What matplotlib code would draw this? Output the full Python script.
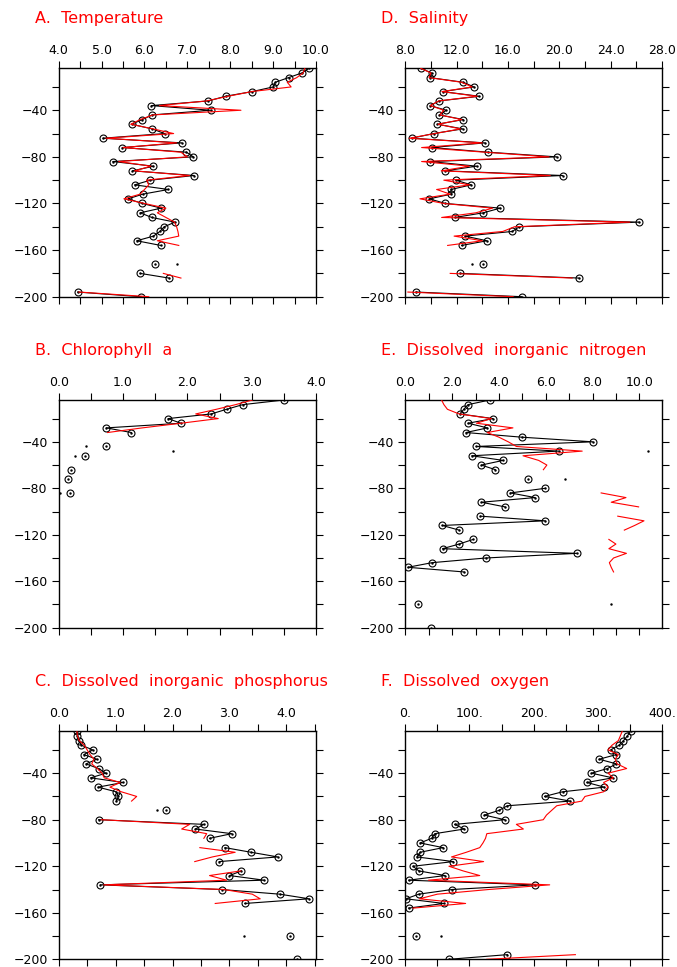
import numpy as np
import matplotlib
matplotlib.use("Agg")
import matplotlib.pyplot as plt
from matplotlib.ticker import MultipleLocator, StrMethodFormatter

nan = np.nan

# depth levels (m), every 4 m
depth = [-4, -8, -12, -16, -20, -24, -28, -32, -36, -40,
         -44, -48, -52, -56, -60, -64, -68, -72, -76, -80,
         -84, -88, -92, -96, -100, -104, -108, -112, -116, -120,
         -124, -128, -132, -136, -140, -144, -148, -152, -156, -160,
         -164, -168, -172, -176, -180, -184, -188, -192, -196, -200]

# A. Temperature
temp_obs = [9.84, 9.67, 9.36, 9.05, 9.00, 8.51, 7.89, 7.49, 6.16, 7.54,
            6.18, 5.95, 5.70, 6.18, 6.47, 5.03, 6.87, 5.48, 6.98, 7.14,
            5.26, 6.21, 5.72, 7.16, 6.14, 5.77, 6.56, 5.96, 5.62, 5.95,
            6.39, 5.90, 6.17, 6.71, 6.46, 6.36, 6.21, 5.82, 6.38, nan,
            nan, nan, 6.24, nan, 5.90, 6.57, nan, nan, 4.44, 5.91]
temp_mod = [9.74, 9.70, 9.55, 9.33, 9.42, 8.50, 7.95, 7.45, 6.35, 8.25,
            6.20, 5.90, 5.68, 6.20, 6.68, 5.10, 6.75, 5.50, 6.85, 7.00,
            5.40, 6.15, 5.77, 7.05, 6.05, 6.10, 6.00, 5.90, 5.52, 6.00,
            6.50, 6.30, 6.50, 6.70, 6.75, 6.78, 6.80, 6.30, 6.80, nan,
            nan, nan, nan, nan, 6.44, 6.85, nan, nan, 4.47, 6.10]
temp_dots = [(6.75, -172)]

# D. Salinity
sal_obs = [9.20, 10.05, 9.92, 12.52, 13.35, 10.90, 13.77, 10.65, 9.92, 11.20,
           10.65, 12.52, 10.50, 12.47, 10.20, 8.49, 14.21, 10.05, 14.45, 19.80,
           9.95, 13.56, 11.10, 20.26, 11.92, 13.14, 11.56, 11.58, 9.87, 11.12,
           15.40, 14.08, 11.87, 26.23, 16.88, 16.34, 12.65, 14.36, 12.39, nan,
           nan, nan, 14.03, nan, 12.26, 21.51, nan, nan, 8.83, 17.06]
sal_mod = [9.20, 10.00, 9.85, 12.40, 13.20, 10.85, 13.60, 10.60, 9.95, 11.00,
           10.70, 12.40, 10.55, 12.30, 10.30, 8.30, 14.00, 9.27, 14.20, 19.20,
           9.27, 13.00, 10.80, 19.30, 11.00, 13.00, 10.44, 11.50, 9.14, 11.00,
           14.80, 13.50, 10.83, 25.50, 16.50, 15.60, 11.80, 14.00, 11.30, nan,
           nan, nan, nan, nan, 11.50, 21.00, nan, nan, 8.20, 16.40]
sal_dots = [(13.17, -172)]

# B. Chlorophyll a
chl_obs = [3.50, 2.86, 2.61, 2.37, 1.70, 1.90, 0.74, 1.13, nan, nan,
           0.74, nan, 0.41, nan, nan, 0.19, nan, 0.14, nan, nan,
           0.18, nan, nan, nan, nan, nan, nan, nan, nan, nan,
           nan, nan, nan, nan, nan, nan, nan, nan, nan, nan,
           nan, nan, nan, nan, nan, nan, nan, nan, nan, nan]
chl_mod = [3.01, 2.75, 2.45, 2.13, 2.48, 1.90, 1.30, 0.76, nan, nan,
           nan, nan, nan, nan, nan, nan, nan, nan, nan, nan,
           nan, nan, nan, nan, nan, nan, nan, nan, nan, nan,
           nan, nan, nan, nan, nan, nan, nan, nan, nan, nan,
           nan, nan, nan, nan, nan, nan, nan, nan, nan, nan]
chl_dots = [(0.42, -44), (1.77, -48), (0.25, -52), (0.02, -84)]

# E. Dissolved inorganic nitrogen
din_obs = [3.61, 2.68, 2.50, 2.33, 3.75, 2.68, 3.51, 2.59, 4.97, 8.01,
           3.03, 6.55, 2.84, 4.18, 3.25, 3.85, nan, 5.24, nan, 5.98,
           4.49, 5.55, 3.25, 4.26, nan, 3.21, 5.98, 1.58, 2.30, nan,
           2.90, 2.30, 1.59, 7.33, 3.44, 1.15, 0.11, 2.50, nan, nan,
           nan, nan, nan, nan, 0.55, nan, nan, nan, nan, 1.08]
din_mod = [1.55, 1.65, 1.80, 2.30, 3.68, 3.04, 4.60, 3.50, 4.00, 4.40,
           4.75, 7.56, 5.03, 5.70, 6.05, 5.90, nan, nan, nan, nan,
           8.37, 9.43, 8.80, 9.97, nan, 9.08, 10.20, 9.80, 9.36, nan,
           8.70, 9.00, 8.70, 9.45, 8.90, 8.72, 8.80, 8.90, nan, nan,
           nan, nan, nan, nan, nan, nan, nan, nan, nan, nan]
din_dots = [(10.36, -48), (6.83, -72), (8.78, -180)]

# C. Dissolved inorganic phosphorus
dip_obs = [0.32, 0.33, 0.35, 0.40, 0.60, 0.44, 0.67, 0.48, 0.70, 0.83,
           0.56, 1.13, 0.69, 1.01, 1.05, 1.01, nan, 1.88, nan, 0.70,
           2.55, 2.40, 3.04, 2.65, nan, 2.92, 3.38, 3.85, 2.82, nan,
           3.21, 3.00, 3.61, 0.73, 2.86, 3.88, 4.40, 3.27, nan, nan,
           nan, nan, nan, nan, 4.06, nan, nan, nan, nan, 4.19]
dip_mod = [0.32, 0.33, 0.36, 0.45, 0.50, 0.55, 0.62, 0.58, 0.68, 0.76,
           0.80, 1.08, 0.90, 1.10, 1.37, 1.28, nan, nan, nan, 0.75,
           2.30, 2.16, 2.60, 2.55, nan, 2.48, 3.10, 2.70, 2.39, nan,
           3.20, 2.65, 2.95, 0.79, 2.90, 3.40, 3.54, 2.75, nan, nan,
           nan, nan, nan, nan, nan, nan, nan, nan, nan, nan]
dip_dots = [(1.72, -72), (3.26, -180)]

# F. Dissolved oxygen
do_obs = [351, 346, 340, 333, 320, 329, 302, 329, 315, 290,
          323, 283, 310, 245, 217, 257, 159, 146, 123, 155,
          77, 92, 46, 41, 23, 59, 23, 18, 75, 12,
          21, 62, 5, 202, 73, 21, 1, 60, 5, nan,
          nan, nan, nan, nan, 17, nan, nan, nan, 159, 68]
do_mod = [338, 335, 332, 322, 316, 332, 327, 330, 345, 316,
          324, 309, 316, 309, 280, 275, 236, 228, 220, 215,
          173, 184, 127, 125, 121, 116, 95, 72, 122, 68,
          90, 116, 36, 225, 130, 50, 22, 94, 12, nan,
          nan, nan, nan, nan, nan, nan, nan, nan, 265, 127]
do_dots = [(55, -180)]

W, H = 677, 967
fig = plt.figure(figsize=(W / 100, H / 100), dpi=100)
plt.rcParams['font.family'] = ['DejaVu Sans']


def panel(px, title, obs, mod, dots, xlim, major, minor, fmt):
    # px = (left, top, right, bottom) in pixels
    l, t, r, b = px
    ax = fig.add_axes([l / W, 1 - b / H, (r - l) / W, (b - t) / H])
    ax.plot(obs, depth, color='black', lw=0.8, marker='o', ms=5,
            mfc='none', mec='black', mew=0.8, zorder=2)
    ax.plot(obs, depth, ls='none', marker='.', ms=1.5, color='black', zorder=2)
    ax.plot(mod, depth, color='red', lw=0.8, zorder=3)
    if dots:
        ax.plot([d[0] for d in dots], [d[1] for d in dots], ls='none',
                marker='.', ms=1.5, color='black')
    ax.set_xlim(*xlim)
    ax.set_ylim(-200, -4)
    ax.xaxis.set_major_locator(MultipleLocator(major))
    ax.xaxis.set_minor_locator(MultipleLocator(minor))
    ax.xaxis.set_major_formatter(StrMethodFormatter(fmt))
    ax.yaxis.set_major_locator(MultipleLocator(40))
    ax.yaxis.set_minor_locator(MultipleLocator(20))
    ax.tick_params(axis='x', which='both', top=True, bottom=True,
                   labeltop=True, labelbottom=False, direction='out',
                   length=5, width=0.8, labelsize=9, pad=3)
    ax.tick_params(axis='y', which='both', left=True, right=True,
                   labelleft=True, labelright=False, direction='out',
                   length=5, width=0.8, labelsize=9, pad=3)
    for s in ax.spines.values():
        s.set_linewidth(1.0)
    fig.text((l - 24) / W, 1 - (t - 50) / H, title, color='red',
             fontsize=11.5, ha='left', va='center')
    return ax


left = (58.7, 316)
right = (405.3, 662)
rows = [(68.3, 296.7), (400, 627.7), (731.3, 959.3)]

panel((left[0], rows[0][0], left[1], rows[0][1]), 'A.  Temperature',
      temp_obs, temp_mod, temp_dots, (4, 10), 1.0, 0.5, '{x:.1f}')
panel((left[0], rows[1][0], left[1], rows[1][1]), 'B.  Chlorophyll  a',
      chl_obs, chl_mod, chl_dots, (0, 4), 1.0, 0.5, '{x:.1f}')
panel((left[0], rows[2][0], left[1], rows[2][1]), 'C.  Dissolved  inorganic  phosphorus',
      dip_obs, dip_mod, dip_dots, (0, 4.52), 1.0, 0.5, '{x:.1f}')
panel((right[0], rows[0][0], right[1], rows[0][1]), 'D.  Salinity',
      sal_obs, sal_mod, sal_dots, (8, 28), 4.0, 2.0, '{x:.1f}')
panel((right[0], rows[1][0], right[1], rows[1][1]), 'E.  Dissolved  inorganic  nitrogen',
      din_obs, din_mod, din_dots, (0, 10.97), 2.0, 1.0, '{x:.1f}')
panel((right[0], rows[2][0], right[1], rows[2][1]), 'F.  Dissolved  oxygen',
      do_obs, do_mod, do_dots, (0, 400), 100, 50, '{x:.0f}.')

fig.savefig('out.png', dpi=100)
